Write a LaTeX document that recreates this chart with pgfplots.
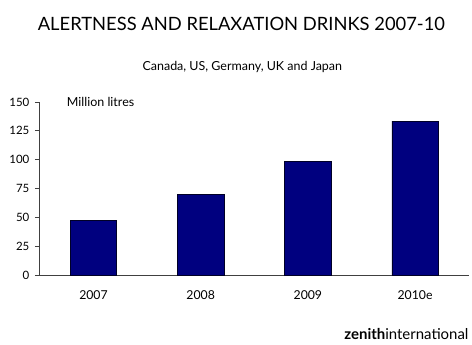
\documentclass[border=0pt]{standalone}
\usepackage{pgfplots}
\pgfplotsset{compat=1.18}
\usepackage{fontspec}
\setmainfont{Lato}
\definecolor{barblue}{HTML}{00007F}
\definecolor{axgray}{HTML}{404040}
\begin{document}
\begin{tikzpicture}[x=1pt,y=1pt]
\path (0,0) rectangle (472,345);
\node[font=\fontsize{18.4}{22}\selectfont] at (242,321) {ALERTNESS AND RELAXATION DRINKS 2007-10};
\node[font=\fontsize{12.5}{14}\selectfont] at (243,277.5) {Canada, US, Germany, UK and Japan};
\begin{axis}[
  at={(40pt,69.3pt)}, anchor=south west,
  scale only axis, width=430pt, height=173.4pt,
  xmin=-0.5, xmax=3.5, ymin=0, ymax=150,
  axis x line*=bottom, axis y line*=left,
  axis line style={axgray, line width=0.8pt},
  xtick={0,1,2,3}, xticklabels={2007,2008,2009,2010e},
  major x tick style={draw=none},
  extra x ticks={-0.5,0.5,1.5,2.5,3.5}, extra x tick labels={},
  extra x tick style={tick style={axgray, line width=0.8pt}, major tick length=5pt, tick align=outside},
  ytick={0,25,50,75,100,125,150},
  ytick style={axgray, line width=0.8pt}, major tick length=5pt, tick align=outside,
  tick label style={font=\fontsize{11.5}{13}\selectfont},
  xticklabel style={yshift=-7pt, font=\fontsize{12.3}{14}\selectfont},
  yticklabel style={xshift=-2pt},
  /pgf/number format/assume math mode=true,
  ybar, bar width=46.6pt,
  clip=false,
]
\addplot[fill=barblue, draw=black!70!barblue, line width=0.6pt] coordinates {(0,47.5) (1,70) (2,98.5) (3,133.5)};
\node[anchor=west, font=\fontsize{12.5}{14}\selectfont] at (axis cs:-0.28,150) {Million litres};
\end{axis}
\node[anchor=base east, font=\fontsize{15}{17}\selectfont, inner sep=0pt] at (470,5) {\textbf{zenith}international};
\end{tikzpicture}
\end{document}
